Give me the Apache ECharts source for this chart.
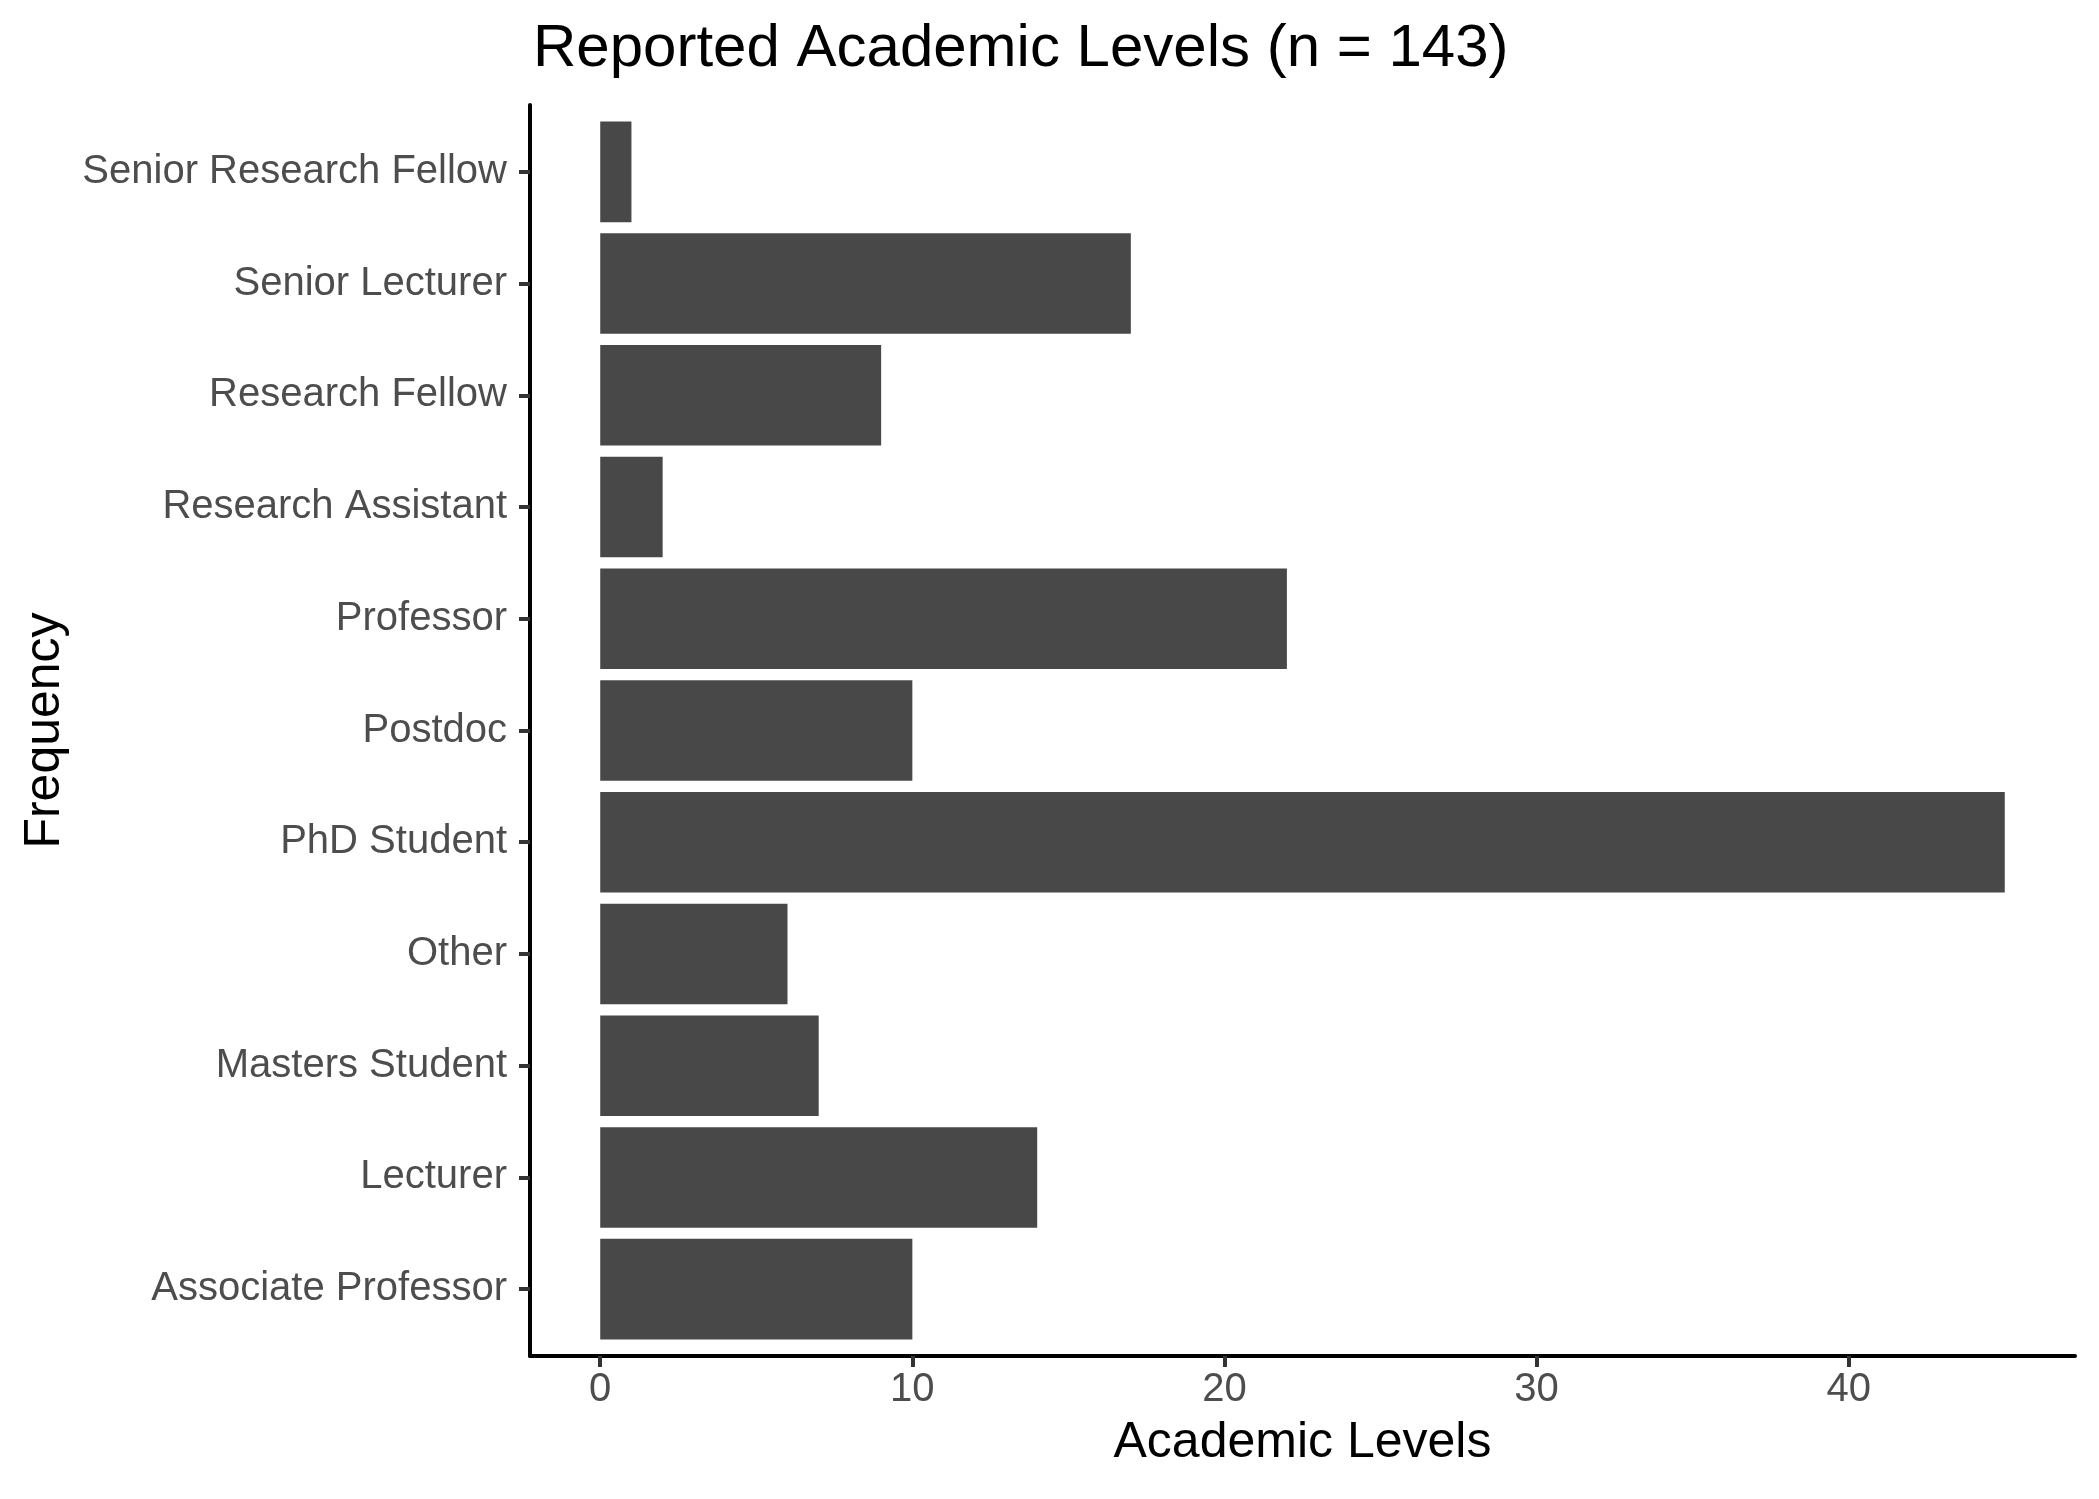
<!DOCTYPE html>
<html>
<head>
<meta charset="utf-8">
<title>Reported Academic Levels</title>
<script src="https://cdn.jsdelivr.net/npm/echarts@6/dist/echarts.min.js"></script>
<style>
  html, body { margin: 0; padding: 0; background: #fff; }
  #main { width: 2099px; height: 1499px; }
</style>
</head>
<body>
<div id="main"></div>
<script type="text/javascript">
// categories, bottom to top (as drawn on the y axis)
var levels = ['Associate Professor', 'Lecturer', 'Masters Student', 'Other', 'PhD Student',
              'Postdoc', 'Professor', 'Research Assistant', 'Research Fellow',
              'Senior Lecturer', 'Senior Research Fellow'];
var counts = [10, 14, 7, 6, 45, 10, 22, 2, 9, 17, 1];
var xTicks = [0, 10, 20, 30, 40];

var font = 'Liberation Sans, Arial, Helvetica, sans-serif';
// ggplot-style 5% expansion on the count axis
var xMin = -2.25, xMax = 47.25;

var chart = echarts.init(document.getElementById('main'));

var option = {
    backgroundColor: '#ffffff',
    animation: false,
    title: {
        text: 'Reported Academic Levels (n = 143)',
        left: 533,
        top: 19,
        padding: 0,
        textStyle: { fontFamily: font, fontSize: 60, fontWeight: 'normal', color: '#000' }
    },
    grid: [
        // frame grid: axis lines, x ticks, axis titles
        { left: 530, right: 24, top: 105, bottom: 143 },
        // bar grid: inset by 0.1 band on each end (0.6 from first/last centre)
        { left: 530, right: 24, top: 116, bottom: 154 }
    ],
    xAxis: [
        {
            gridIndex: 0,
            type: 'value',
            min: xMin,
            max: xMax,
            name: 'Academic Levels',
            nameLocation: 'middle',
            nameGap: 62,
            nameTextStyle: { fontFamily: font, fontSize: 50, color: '#000' },
            axisLine: { show: true, onZero: false, lineStyle: { color: '#000', width: 4 } },
            axisTick: { show: true, length: 11, customValues: xTicks, lineStyle: { color: '#333', width: 4 } },
            axisLabel: { show: true, customValues: xTicks, margin: 14, fontFamily: font, fontSize: 40, color: '#4d4d4d' },
            splitLine: { show: false }
        },
        {
            gridIndex: 1,
            type: 'value',
            min: xMin,
            max: xMax,
            show: false
        }
    ],
    yAxis: [
        {
            gridIndex: 0,
            type: 'value',
            min: 0,
            max: 1,
            name: 'Frequency',
            nameLocation: 'middle',
            nameGap: 460,
            nameTextStyle: { fontFamily: font, fontSize: 50, color: '#000' },
            axisLine: { show: true, onZero: false, lineStyle: { color: '#000', width: 4 } },
            axisTick: { show: false },
            axisLabel: { show: false },
            splitLine: { show: false }
        },
        {
            gridIndex: 1,
            type: 'category',
            data: levels,
            axisLine: { show: false, onZero: false },
            axisTick: { show: true, alignWithLabel: true, length: 11, lineStyle: { color: '#333', width: 4 } },
            axisLabel: { margin: 23, padding: [5, 0, 0, 0], fontFamily: font, fontSize: 40, color: '#4d4d4d' },
            splitLine: { show: false }
        }
    ],
    series: [
        {
            name: 'Frequency',
            type: 'bar',
            xAxisIndex: 1,
            yAxisIndex: 1,
            data: counts,
            barWidth: '90%',
            itemStyle: { color: '#484848' }
        }
    ]
};
chart.setOption(option);
</script>
</body>
</html>
